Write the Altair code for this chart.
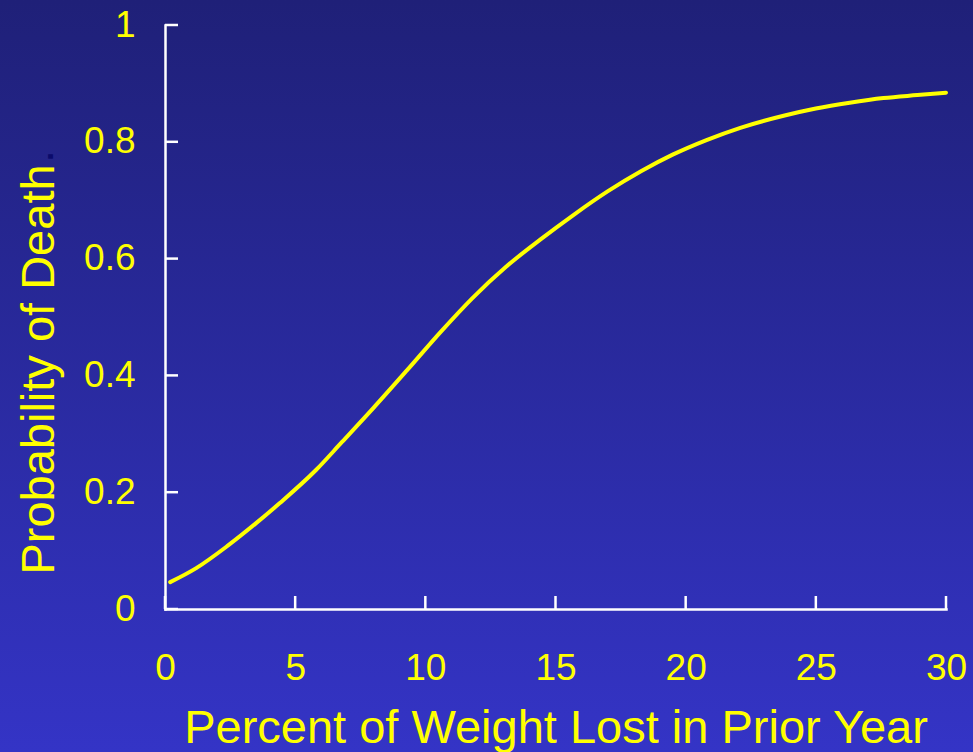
import altair as alt
import pandas as pd

# Logistic-style curve: probability of death vs. percent of weight lost
weight_lost = [0.2, 1.2, 2.4, 3.5, 4.4, 5.8, 6.8, 8.0, 9.3, 10.6, 11.8, 13.1,
               14.4, 15.7, 17.0, 18.3, 19.5, 20.8, 22.1, 23.8, 25.0, 26.3, 27.6,
               28.9, 30.0]
prob_death = [0.046, 0.070, 0.108, 0.147, 0.181, 0.238, 0.286, 0.344,
              0.409, 0.475, 0.532, 0.586, 0.632, 0.675, 0.715, 0.750, 0.778,
              0.803, 0.824, 0.845, 0.857, 0.867, 0.875, 0.880, 0.884]

x_ticks = [0, 5, 10, 15, 20, 25, 30]
y_ticks = [0, 0.2, 0.4, 0.6, 0.8, 1]

W, H = 781, 584
PAD = {"left": 165, "top": 25, "right": 27, "bottom": 143}
FONT = "Liberation Sans"
YELLOW = "#ffff00"
TICK_LEN = 13

curve = pd.DataFrame({"pct": weight_lost, "p": prob_death})
xt = pd.DataFrame({"v": x_ticks})
yt = pd.DataFrame({"v": y_ticks})
one = pd.DataFrame({"k": [0]})

x_scale = alt.Scale(domain=[0, 30], nice=False, zero=False)
y_scale = alt.Scale(domain=[0, 1], nice=False)

x_axis = alt.Axis(
    values=x_ticks, format="d", title="Percent of Weight Lost in Prior Year",
    ticks=False, tickSize=0, labelPadding=41, labelFontSize=37,
    labelColor=YELLOW, labelFont=FONT, labelFlush=False,
    domainColor="white", domainWidth=2.5, domainCap="square", grid=False,
    titleFontSize=47, titleColor=YELLOW, titleFont=FONT,
    titleFontWeight="normal", titleBaseline="alphabetic", titleY=133,
    zindex=1,
)
y_axis = alt.Axis(
    values=y_ticks, format="~g", title="Probability of Death",
    ticks=False, tickSize=0, labelPadding=30, labelFontSize=37,
    labelColor=YELLOW, labelFont=FONT, labelFlush=False,
    domainColor="white", domainWidth=2.5, domainCap="square", grid=False,
    titleFontSize=47, titleColor=YELLOW, titleFont=FONT,
    titleFontWeight="normal", titleBaseline="alphabetic", titleAngle=270,
    titleAlign="center", titleX=-112, titleY=344,
    zindex=1,
)

# Slide background: vertical navy-to-blue gradient over the whole canvas
bg = alt.Chart(one).mark_rect(
    fill=alt.Gradient(
        gradient="linear",
        stops=[alt.GradientStop(color="#1f2078", offset=0),
               alt.GradientStop(color="#3434c6", offset=1)],
        x1=0, y1=0, x2=0, y2=1,
    ),
    strokeWidth=0,
).encode(
    x=alt.value(-PAD["left"]), x2=alt.value(W + PAD["right"]),
    y=alt.value(-PAD["top"]), y2=alt.value(H + PAD["bottom"]),
)

line = alt.Chart(curve).mark_line(
    color=YELLOW, strokeWidth=4, interpolate="monotone", strokeCap="round",
).encode(
    x=alt.X("pct:Q", scale=x_scale, axis=x_axis),
    y=alt.Y("p:Q", scale=y_scale, axis=y_axis),
)

# Inward-pointing tick marks
x_tick_marks = alt.Chart(xt).mark_rule(color="white", strokeWidth=2.5).encode(
    x=alt.X("v:Q", scale=x_scale, axis=x_axis),
    y=alt.value(H), y2=alt.value(H - TICK_LEN),
)
y_tick_marks = alt.Chart(yt).mark_rule(color="white", strokeWidth=2.5).encode(
    y=alt.Y("v:Q", scale=y_scale, axis=y_axis),
    x=alt.value(0), x2=alt.value(TICK_LEN),
)

# Dark full stop trailing the vertical axis title
period = alt.Chart(one).mark_text(
    text=".", angle=270, align="left", baseline="alphabetic",
    fontSize=47, font=FONT, color="#0b0b6b",
).encode(x=alt.value(-112), y=alt.value(138))

chart = alt.layer(bg, line, x_tick_marks, y_tick_marks, period).properties(
    width=W, height=H, padding=PAD, autosize="none", background="#2a2aa0",
).configure_view(stroke=None).configure(font=FONT)

chart.save("out.html", embed_options={"renderer": "svg", "actions": False})
